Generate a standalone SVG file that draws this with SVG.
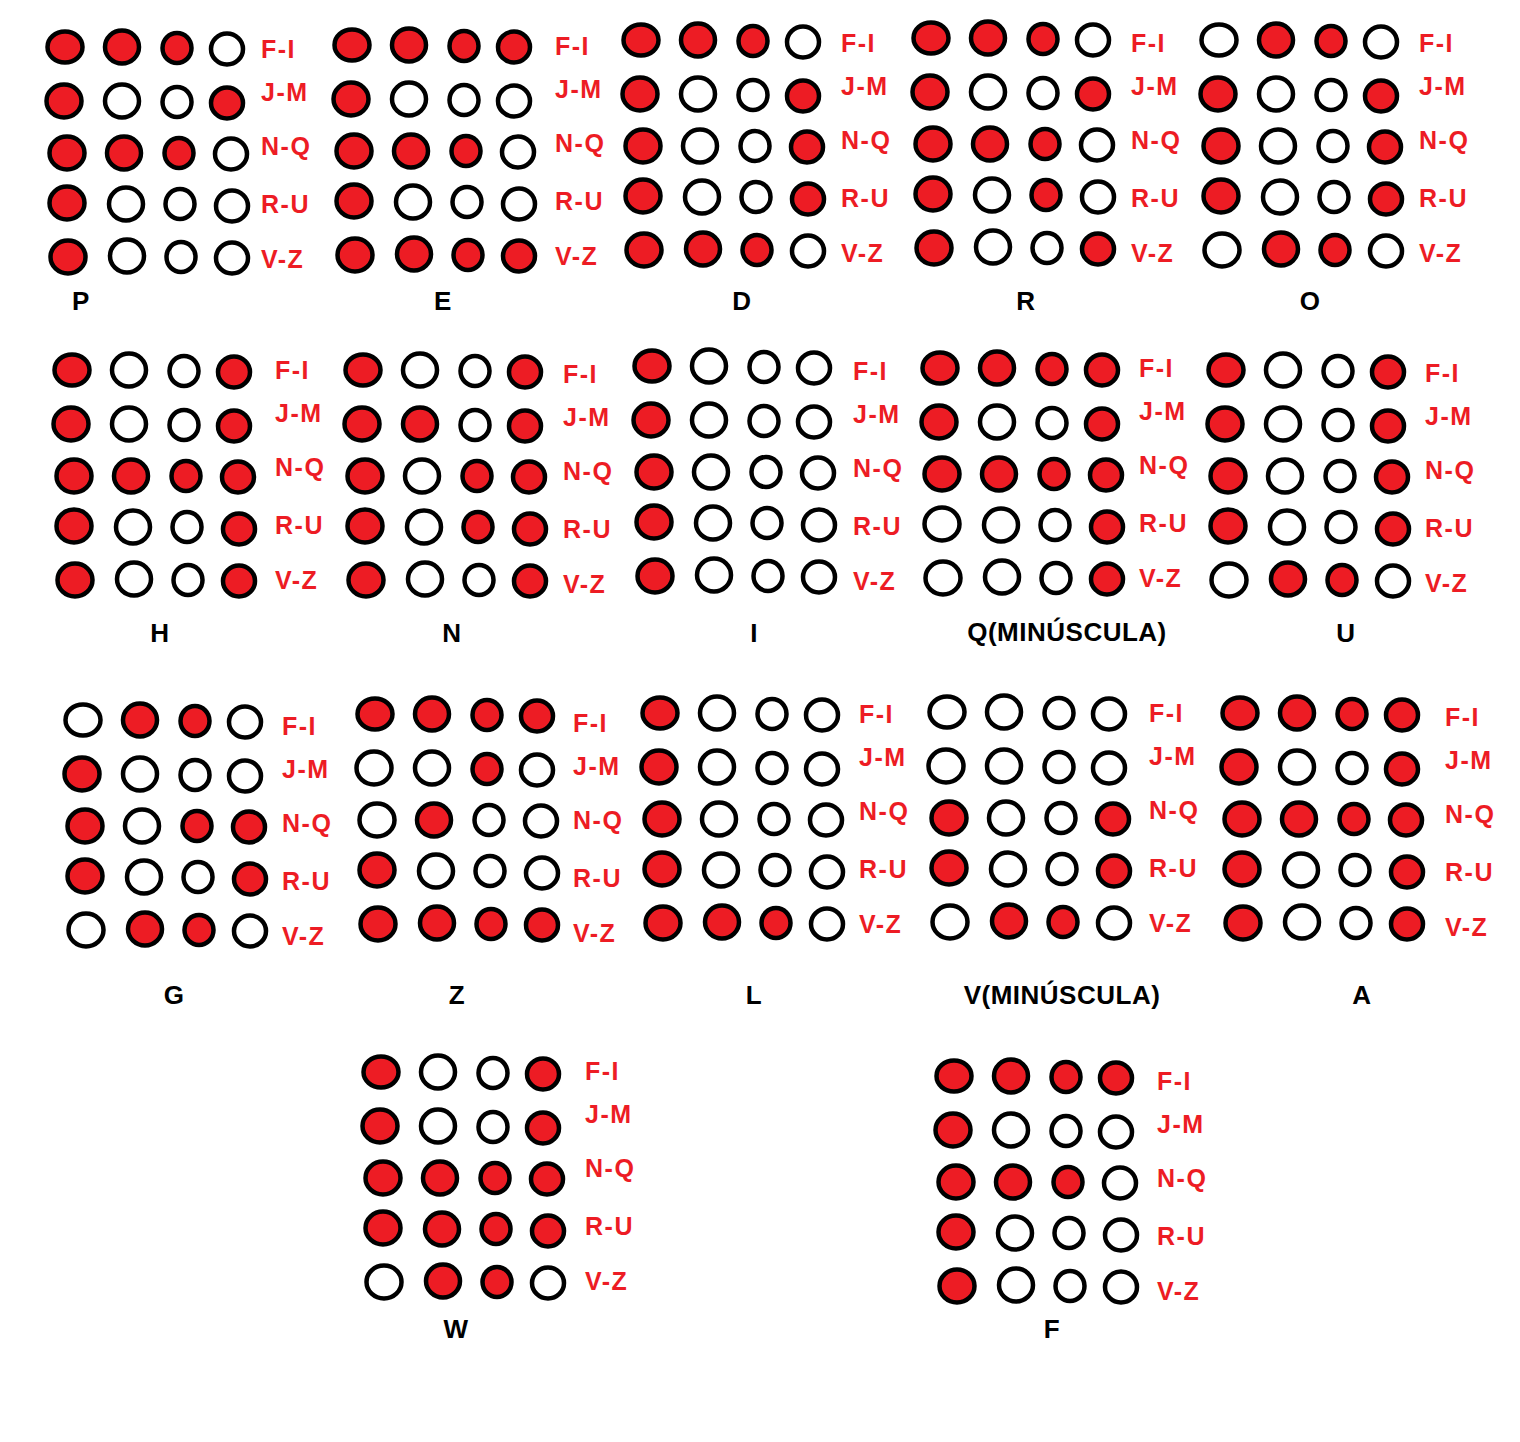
<svg xmlns="http://www.w3.org/2000/svg" xmlns:xlink="http://www.w3.org/1999/xlink" width="1520" height="1442" viewBox="0 0 1520 1442">
<style>
.dot{stroke:#000;stroke-width:4.5}
.r{fill:#ED1C24}
.w{fill:#FFFFFF}
.lbl{font-family:"Liberation Sans",Arial,sans-serif;font-weight:bold;font-size:25px;fill:#ED1C24;letter-spacing:1.5px}
.ttl{font-family:"Liberation Sans",Arial,sans-serif;font-weight:bold;font-size:26px;fill:#000;text-anchor:middle;letter-spacing:0.5px}
</style>
<defs>
<ellipse id="d11" class="dot" cx="0" cy="0" rx="17.5" ry="15.5"/>
<ellipse id="d12" class="dot" cx="57" cy="0" rx="17" ry="16.5"/>
<ellipse id="d13" class="dot" cx="112" cy="1" rx="14.5" ry="15"/>
<ellipse id="d14" class="dot" cx="162" cy="2" rx="16" ry="15.5"/>
<ellipse id="d21" class="dot" cx="-1" cy="54" rx="17.5" ry="16.5"/>
<ellipse id="d22" class="dot" cx="57" cy="54" rx="17" ry="16.5"/>
<ellipse id="d23" class="dot" cx="112" cy="55" rx="14.5" ry="15"/>
<ellipse id="d24" class="dot" cx="162" cy="56" rx="16" ry="15.5"/>
<ellipse id="d31" class="dot" cx="2" cy="106" rx="17.5" ry="16.5"/>
<ellipse id="d32" class="dot" cx="59" cy="106" rx="17" ry="16.5"/>
<ellipse id="d33" class="dot" cx="114" cy="106" rx="14.5" ry="15"/>
<ellipse id="d34" class="dot" cx="166" cy="107" rx="16" ry="15.5"/>
<ellipse id="d41" class="dot" cx="2" cy="156" rx="17.5" ry="16.5"/>
<ellipse id="d42" class="dot" cx="61" cy="157" rx="17" ry="16.5"/>
<ellipse id="d43" class="dot" cx="115" cy="157" rx="14.5" ry="15"/>
<ellipse id="d44" class="dot" cx="167" cy="159" rx="16" ry="15.5"/>
<ellipse id="d51" class="dot" cx="3" cy="210" rx="17.5" ry="16.5"/>
<ellipse id="d52" class="dot" cx="62" cy="209" rx="17" ry="16.5"/>
<ellipse id="d53" class="dot" cx="116" cy="210" rx="14.5" ry="15"/>
<ellipse id="d54" class="dot" cx="167" cy="211" rx="16" ry="15.5"/>
</defs>
<rect width="1520" height="1442" fill="#fff"/>

<g id="block-P">
<g transform="translate(65,47)">
<use href="#d11" class="r"/><use href="#d12" class="r"/><use href="#d13" class="r"/><use href="#d14" class="w"/>
<use href="#d21" class="r"/><use href="#d22" class="w"/><use href="#d23" class="w"/><use href="#d24" class="r"/>
<use href="#d31" class="r"/><use href="#d32" class="r"/><use href="#d33" class="r"/><use href="#d34" class="w"/>
<use href="#d41" class="r"/><use href="#d42" class="w"/><use href="#d43" class="w"/><use href="#d44" class="w"/>
<use href="#d51" class="r"/><use href="#d52" class="w"/><use href="#d53" class="w"/><use href="#d54" class="w"/>
</g>
<text class="lbl" x="261" y="58">F-I</text><text class="lbl" x="261" y="101">J-M</text><text class="lbl" x="261" y="155">N-Q</text><text class="lbl" x="261" y="212.5">R-U</text><text class="lbl" x="261" y="268">V-Z</text>
<text class="ttl" x="81" y="310">P</text>
</g>

<g id="block-E">
<g transform="translate(352,45)">
<use href="#d11" class="r"/><use href="#d12" class="r"/><use href="#d13" class="r"/><use href="#d14" class="r"/>
<use href="#d21" class="r"/><use href="#d22" class="w"/><use href="#d23" class="w"/><use href="#d24" class="w"/>
<use href="#d31" class="r"/><use href="#d32" class="r"/><use href="#d33" class="r"/><use href="#d34" class="w"/>
<use href="#d41" class="r"/><use href="#d42" class="w"/><use href="#d43" class="w"/><use href="#d44" class="w"/>
<use href="#d51" class="r"/><use href="#d52" class="r"/><use href="#d53" class="r"/><use href="#d54" class="r"/>
</g>
<text class="lbl" x="555" y="55">F-I</text><text class="lbl" x="555" y="98">J-M</text><text class="lbl" x="555" y="152">N-Q</text><text class="lbl" x="555" y="209.5">R-U</text><text class="lbl" x="555" y="265">V-Z</text>
<text class="ttl" x="443" y="310">E</text>
</g>

<g id="block-D">
<g transform="translate(641,40)">
<use href="#d11" class="r"/><use href="#d12" class="r"/><use href="#d13" class="r"/><use href="#d14" class="w"/>
<use href="#d21" class="r"/><use href="#d22" class="w"/><use href="#d23" class="w"/><use href="#d24" class="r"/>
<use href="#d31" class="r"/><use href="#d32" class="w"/><use href="#d33" class="w"/><use href="#d34" class="r"/>
<use href="#d41" class="r"/><use href="#d42" class="w"/><use href="#d43" class="w"/><use href="#d44" class="r"/>
<use href="#d51" class="r"/><use href="#d52" class="r"/><use href="#d53" class="r"/><use href="#d54" class="w"/>
</g>
<text class="lbl" x="841" y="52">F-I</text><text class="lbl" x="841" y="95">J-M</text><text class="lbl" x="841" y="149">N-Q</text><text class="lbl" x="841" y="206.5">R-U</text><text class="lbl" x="841" y="262">V-Z</text>
<text class="ttl" x="742" y="310">D</text>
</g>

<g id="block-R">
<g transform="translate(931,38)">
<use href="#d11" class="r"/><use href="#d12" class="r"/><use href="#d13" class="r"/><use href="#d14" class="w"/>
<use href="#d21" class="r"/><use href="#d22" class="w"/><use href="#d23" class="w"/><use href="#d24" class="r"/>
<use href="#d31" class="r"/><use href="#d32" class="r"/><use href="#d33" class="r"/><use href="#d34" class="w"/>
<use href="#d41" class="r"/><use href="#d42" class="w"/><use href="#d43" class="r"/><use href="#d44" class="w"/>
<use href="#d51" class="r"/><use href="#d52" class="w"/><use href="#d53" class="w"/><use href="#d54" class="r"/>
</g>
<text class="lbl" x="1131" y="52">F-I</text><text class="lbl" x="1131" y="95">J-M</text><text class="lbl" x="1131" y="149">N-Q</text><text class="lbl" x="1131" y="206.5">R-U</text><text class="lbl" x="1131" y="262">V-Z</text>
<text class="ttl" x="1026" y="310">R</text>
</g>

<g id="block-O">
<g transform="translate(1219,40)">
<use href="#d11" class="w"/><use href="#d12" class="r"/><use href="#d13" class="r"/><use href="#d14" class="w"/>
<use href="#d21" class="r"/><use href="#d22" class="w"/><use href="#d23" class="w"/><use href="#d24" class="r"/>
<use href="#d31" class="r"/><use href="#d32" class="w"/><use href="#d33" class="w"/><use href="#d34" class="r"/>
<use href="#d41" class="r"/><use href="#d42" class="w"/><use href="#d43" class="w"/><use href="#d44" class="r"/>
<use href="#d51" class="w"/><use href="#d52" class="r"/><use href="#d53" class="r"/><use href="#d54" class="w"/>
</g>
<text class="lbl" x="1419" y="52">F-I</text><text class="lbl" x="1419" y="95">J-M</text><text class="lbl" x="1419" y="149">N-Q</text><text class="lbl" x="1419" y="206.5">R-U</text><text class="lbl" x="1419" y="262">V-Z</text>
<text class="ttl" x="1310" y="310">O</text>
</g>

<g id="block-H">
<g transform="translate(72,370)">
<use href="#d11" class="r"/><use href="#d12" class="w"/><use href="#d13" class="w"/><use href="#d14" class="r"/>
<use href="#d21" class="r"/><use href="#d22" class="w"/><use href="#d23" class="w"/><use href="#d24" class="r"/>
<use href="#d31" class="r"/><use href="#d32" class="r"/><use href="#d33" class="r"/><use href="#d34" class="r"/>
<use href="#d41" class="r"/><use href="#d42" class="w"/><use href="#d43" class="w"/><use href="#d44" class="r"/>
<use href="#d51" class="r"/><use href="#d52" class="w"/><use href="#d53" class="w"/><use href="#d54" class="r"/>
</g>
<text class="lbl" x="275" y="379">F-I</text><text class="lbl" x="275" y="422">J-M</text><text class="lbl" x="275" y="476">N-Q</text><text class="lbl" x="275" y="533.5">R-U</text><text class="lbl" x="275" y="589">V-Z</text>
<text class="ttl" x="160" y="642">H</text>
</g>

<g id="block-N">
<g transform="translate(363,370)">
<use href="#d11" class="r"/><use href="#d12" class="w"/><use href="#d13" class="w"/><use href="#d14" class="r"/>
<use href="#d21" class="r"/><use href="#d22" class="r"/><use href="#d23" class="w"/><use href="#d24" class="r"/>
<use href="#d31" class="r"/><use href="#d32" class="w"/><use href="#d33" class="r"/><use href="#d34" class="r"/>
<use href="#d41" class="r"/><use href="#d42" class="w"/><use href="#d43" class="r"/><use href="#d44" class="r"/>
<use href="#d51" class="r"/><use href="#d52" class="w"/><use href="#d53" class="w"/><use href="#d54" class="r"/>
</g>
<text class="lbl" x="563" y="383">F-I</text><text class="lbl" x="563" y="426">J-M</text><text class="lbl" x="563" y="480">N-Q</text><text class="lbl" x="563" y="537.5">R-U</text><text class="lbl" x="563" y="593">V-Z</text>
<text class="ttl" x="452" y="642">N</text>
</g>

<g id="block-I">
<g transform="translate(652,366)">
<use href="#d11" class="r"/><use href="#d12" class="w"/><use href="#d13" class="w"/><use href="#d14" class="w"/>
<use href="#d21" class="r"/><use href="#d22" class="w"/><use href="#d23" class="w"/><use href="#d24" class="w"/>
<use href="#d31" class="r"/><use href="#d32" class="w"/><use href="#d33" class="w"/><use href="#d34" class="w"/>
<use href="#d41" class="r"/><use href="#d42" class="w"/><use href="#d43" class="w"/><use href="#d44" class="w"/>
<use href="#d51" class="r"/><use href="#d52" class="w"/><use href="#d53" class="w"/><use href="#d54" class="w"/>
</g>
<text class="lbl" x="853" y="380">F-I</text><text class="lbl" x="853" y="423">J-M</text><text class="lbl" x="853" y="477">N-Q</text><text class="lbl" x="853" y="534.5">R-U</text><text class="lbl" x="853" y="590">V-Z</text>
<text class="ttl" x="754" y="642">I</text>
</g>

<g id="block-Q">
<g transform="translate(940,368)">
<use href="#d11" class="r"/><use href="#d12" class="r"/><use href="#d13" class="r"/><use href="#d14" class="r"/>
<use href="#d21" class="r"/><use href="#d22" class="w"/><use href="#d23" class="w"/><use href="#d24" class="r"/>
<use href="#d31" class="r"/><use href="#d32" class="r"/><use href="#d33" class="r"/><use href="#d34" class="r"/>
<use href="#d41" class="w"/><use href="#d42" class="w"/><use href="#d43" class="w"/><use href="#d44" class="r"/>
<use href="#d51" class="w"/><use href="#d52" class="w"/><use href="#d53" class="w"/><use href="#d54" class="r"/>
</g>
<text class="lbl" x="1139" y="377">F-I</text><text class="lbl" x="1139" y="420">J-M</text><text class="lbl" x="1139" y="474">N-Q</text><text class="lbl" x="1139" y="531.5">R-U</text><text class="lbl" x="1139" y="587">V-Z</text>
<text class="ttl" x="1067" y="641">Q(MINÚSCULA)</text>
</g>

<g id="block-U">
<g transform="translate(1226,370)">
<use href="#d11" class="r"/><use href="#d12" class="w"/><use href="#d13" class="w"/><use href="#d14" class="r"/>
<use href="#d21" class="r"/><use href="#d22" class="w"/><use href="#d23" class="w"/><use href="#d24" class="r"/>
<use href="#d31" class="r"/><use href="#d32" class="w"/><use href="#d33" class="w"/><use href="#d34" class="r"/>
<use href="#d41" class="r"/><use href="#d42" class="w"/><use href="#d43" class="w"/><use href="#d44" class="r"/>
<use href="#d51" class="w"/><use href="#d52" class="r"/><use href="#d53" class="r"/><use href="#d54" class="w"/>
</g>
<text class="lbl" x="1425" y="382">F-I</text><text class="lbl" x="1425" y="425">J-M</text><text class="lbl" x="1425" y="479">N-Q</text><text class="lbl" x="1425" y="536.5">R-U</text><text class="lbl" x="1425" y="592">V-Z</text>
<text class="ttl" x="1346" y="642">U</text>
</g>

<g id="block-G">
<g transform="translate(83,720)">
<use href="#d11" class="w"/><use href="#d12" class="r"/><use href="#d13" class="r"/><use href="#d14" class="w"/>
<use href="#d21" class="r"/><use href="#d22" class="w"/><use href="#d23" class="w"/><use href="#d24" class="w"/>
<use href="#d31" class="r"/><use href="#d32" class="w"/><use href="#d33" class="r"/><use href="#d34" class="r"/>
<use href="#d41" class="r"/><use href="#d42" class="w"/><use href="#d43" class="w"/><use href="#d44" class="r"/>
<use href="#d51" class="w"/><use href="#d52" class="r"/><use href="#d53" class="r"/><use href="#d54" class="w"/>
</g>
<text class="lbl" x="282" y="735">F-I</text><text class="lbl" x="282" y="778">J-M</text><text class="lbl" x="282" y="832">N-Q</text><text class="lbl" x="282" y="889.5">R-U</text><text class="lbl" x="282" y="945">V-Z</text>
<text class="ttl" x="174" y="1004">G</text>
</g>

<g id="block-Z">
<g transform="translate(375,714)">
<use href="#d11" class="r"/><use href="#d12" class="r"/><use href="#d13" class="r"/><use href="#d14" class="r"/>
<use href="#d21" class="w"/><use href="#d22" class="w"/><use href="#d23" class="r"/><use href="#d24" class="w"/>
<use href="#d31" class="w"/><use href="#d32" class="r"/><use href="#d33" class="w"/><use href="#d34" class="w"/>
<use href="#d41" class="r"/><use href="#d42" class="w"/><use href="#d43" class="w"/><use href="#d44" class="w"/>
<use href="#d51" class="r"/><use href="#d52" class="r"/><use href="#d53" class="r"/><use href="#d54" class="r"/>
</g>
<text class="lbl" x="573" y="732">F-I</text><text class="lbl" x="573" y="775">J-M</text><text class="lbl" x="573" y="829">N-Q</text><text class="lbl" x="573" y="886.5">R-U</text><text class="lbl" x="573" y="942">V-Z</text>
<text class="ttl" x="457" y="1004">Z</text>
</g>

<g id="block-L">
<g transform="translate(660,713)">
<use href="#d11" class="r"/><use href="#d12" class="w"/><use href="#d13" class="w"/><use href="#d14" class="w"/>
<use href="#d21" class="r"/><use href="#d22" class="w"/><use href="#d23" class="w"/><use href="#d24" class="w"/>
<use href="#d31" class="r"/><use href="#d32" class="w"/><use href="#d33" class="w"/><use href="#d34" class="w"/>
<use href="#d41" class="r"/><use href="#d42" class="w"/><use href="#d43" class="w"/><use href="#d44" class="w"/>
<use href="#d51" class="r"/><use href="#d52" class="r"/><use href="#d53" class="r"/><use href="#d54" class="w"/>
</g>
<text class="lbl" x="859" y="723">F-I</text><text class="lbl" x="859" y="766">J-M</text><text class="lbl" x="859" y="820">N-Q</text><text class="lbl" x="859" y="877.5">R-U</text><text class="lbl" x="859" y="933">V-Z</text>
<text class="ttl" x="754" y="1004">L</text>
</g>

<g id="block-V">
<g transform="translate(947,712)">
<use href="#d11" class="w"/><use href="#d12" class="w"/><use href="#d13" class="w"/><use href="#d14" class="w"/>
<use href="#d21" class="w"/><use href="#d22" class="w"/><use href="#d23" class="w"/><use href="#d24" class="w"/>
<use href="#d31" class="r"/><use href="#d32" class="w"/><use href="#d33" class="w"/><use href="#d34" class="r"/>
<use href="#d41" class="r"/><use href="#d42" class="w"/><use href="#d43" class="w"/><use href="#d44" class="r"/>
<use href="#d51" class="w"/><use href="#d52" class="r"/><use href="#d53" class="r"/><use href="#d54" class="w"/>
</g>
<text class="lbl" x="1149" y="722">F-I</text><text class="lbl" x="1149" y="765">J-M</text><text class="lbl" x="1149" y="819">N-Q</text><text class="lbl" x="1149" y="876.5">R-U</text><text class="lbl" x="1149" y="932">V-Z</text>
<text class="ttl" x="1062" y="1004">V(MINÚSCULA)</text>
</g>

<g id="block-A">
<g transform="translate(1240,713)">
<use href="#d11" class="r"/><use href="#d12" class="r"/><use href="#d13" class="r"/><use href="#d14" class="r"/>
<use href="#d21" class="r"/><use href="#d22" class="w"/><use href="#d23" class="w"/><use href="#d24" class="r"/>
<use href="#d31" class="r"/><use href="#d32" class="r"/><use href="#d33" class="r"/><use href="#d34" class="r"/>
<use href="#d41" class="r"/><use href="#d42" class="w"/><use href="#d43" class="w"/><use href="#d44" class="r"/>
<use href="#d51" class="r"/><use href="#d52" class="w"/><use href="#d53" class="w"/><use href="#d54" class="r"/>
</g>
<text class="lbl" x="1445" y="726">F-I</text><text class="lbl" x="1445" y="769">J-M</text><text class="lbl" x="1445" y="823">N-Q</text><text class="lbl" x="1445" y="880.5">R-U</text><text class="lbl" x="1445" y="936">V-Z</text>
<text class="ttl" x="1362" y="1004">A</text>
</g>

<g id="block-W">
<g transform="translate(381,1072)">
<use href="#d11" class="r"/><use href="#d12" class="w"/><use href="#d13" class="w"/><use href="#d14" class="r"/>
<use href="#d21" class="r"/><use href="#d22" class="w"/><use href="#d23" class="w"/><use href="#d24" class="r"/>
<use href="#d31" class="r"/><use href="#d32" class="r"/><use href="#d33" class="r"/><use href="#d34" class="r"/>
<use href="#d41" class="r"/><use href="#d42" class="r"/><use href="#d43" class="r"/><use href="#d44" class="r"/>
<use href="#d51" class="w"/><use href="#d52" class="r"/><use href="#d53" class="r"/><use href="#d54" class="w"/>
</g>
<text class="lbl" x="585" y="1080">F-I</text><text class="lbl" x="585" y="1123">J-M</text><text class="lbl" x="585" y="1177">N-Q</text><text class="lbl" x="585" y="1234.5">R-U</text><text class="lbl" x="585" y="1290">V-Z</text>
<text class="ttl" x="456" y="1338">W</text>
</g>

<g id="block-F">
<g transform="translate(954,1076)">
<use href="#d11" class="r"/><use href="#d12" class="r"/><use href="#d13" class="r"/><use href="#d14" class="r"/>
<use href="#d21" class="r"/><use href="#d22" class="w"/><use href="#d23" class="w"/><use href="#d24" class="w"/>
<use href="#d31" class="r"/><use href="#d32" class="r"/><use href="#d33" class="r"/><use href="#d34" class="w"/>
<use href="#d41" class="r"/><use href="#d42" class="w"/><use href="#d43" class="w"/><use href="#d44" class="w"/>
<use href="#d51" class="r"/><use href="#d52" class="w"/><use href="#d53" class="w"/><use href="#d54" class="w"/>
</g>
<text class="lbl" x="1157" y="1090">F-I</text><text class="lbl" x="1157" y="1133">J-M</text><text class="lbl" x="1157" y="1187">N-Q</text><text class="lbl" x="1157" y="1244.5">R-U</text><text class="lbl" x="1157" y="1300">V-Z</text>
<text class="ttl" x="1052" y="1338">F</text>
</g>

<g id="connectors"/>
</svg>
